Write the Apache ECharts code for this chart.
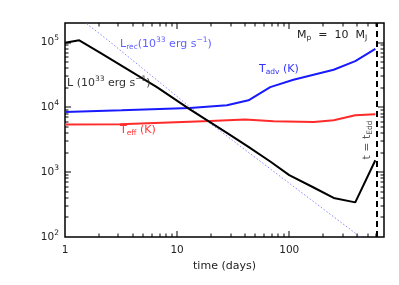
<!DOCTYPE html>
<html><head><meta charset="utf-8">
<script src="https://cdn.jsdelivr.net/npm/echarts@6/dist/echarts.min.js"></script>
<style>html,body{margin:0;padding:0;background:#fff}#c{width:399px;height:285px}</style>
</head><body><div id="c"></div>
<script>
// ---- data ----
const timeL    = [1, 1.34, 2.05, 6.6, 13, 27.8, 43.3, 67.7, 100, 165, 249, 388, 586];
const lumL     = [99000, 108000, 70000, 20500, 9300, 4040, 2450, 1460, 900, 580, 400, 342, 1530];
const timeAdv  = [1, 3.2, 13, 27.8, 43.3, 67.7, 109, 249, 388, 586];
const tempAdv  = [8470, 8990, 9750, 10740, 12820, 20520, 26690, 38020, 51550, 80000];
const timeEff  = [1, 3.1, 19.7, 40.5, 72.4, 165, 249, 388, 586];
const tempEff  = [5420, 5475, 6155, 6470, 6090, 5940, 6310, 7530, 7800];
const timeRec  = [1.56, 2.44, 19.0, 125, 430];
const lumRec   = [195000, 107000, 5940, 505, 100];
const tEdd = 600;
const xMin = 1, xMax = 700, yMin = 100, yMax = 200000;
const xMajorTicks = [1, 10, 100];
const yMajorTicks = [100, 1000, 10000, 100000];

const FONT = 'DejaVu Sans';
const TXT = '#222';
function pairs(ts, vs){ return ts.map((t,i)=>[t, vs[i]]); }
function isPow10(v){ const l=Math.log10(v); return Math.abs(l-Math.round(l))<1e-6; }

const minorX=[], minorY=[];
for (const d of xMajorTicks) for (let m=2;m<=9;m++){ const v=m*d; if (v<xMax) minorX.push(v); }
for (const d of yMajorTicks) for (let m=2;m<=9;m++){ const v=m*d; if (v<yMax) minorY.push(v); }
const xTickData = xMajorTicks.filter(v=>v>xMin).map(v=>[v,yMin,6]).concat(minorX.map(v=>[v,yMin,3.5]));
const yTickData = yMajorTicks.filter(v=>v>yMin).map(v=>[xMin,v,6]).concat(minorY.map(v=>[xMin,v,3.5]));

function xTickRender(params, api){
  const cs = params.coordSys; const p = api.coord([api.value(0), api.value(1)]);
  const len = api.value(2); const x = Math.round(p[0]);
  const st = {stroke:'#000', lineWidth:1};
  return {type:'group', children:[
    {type:'line', shape:{x1:x,y1:cs.y+cs.height,x2:x,y2:cs.y+cs.height-len}, style:st},
    {type:'line', shape:{x1:x,y1:cs.y,x2:x,y2:cs.y+len}, style:st}]};
}
function yTickRender(params, api){
  const cs = params.coordSys; const p = api.coord([api.value(0), api.value(1)]);
  const len = api.value(2); const y = Math.round(p[1]);
  const st = {stroke:'#000', lineWidth:1};
  return {type:'group', children:[
    {type:'line', shape:{x1:cs.x,y1:y,x2:cs.x+len,y2:y}, style:st},
    {type:'line', shape:{x1:cs.x+cs.width,y1:y,x2:cs.x+cs.width-len,y2:y}, style:st}]};
}

function richFor(color){
  return {
    m:{fontFamily:FONT,fontSize:11,fill:color},
    sup:{fontFamily:FONT,fontSize:7.5,fill:color,padding:[0,0,8,0]},
    sub:{fontFamily:FONT,fontSize:7.5,fill:color,padding:[7,0,0,0]}
  };
}
function label(x,y,text,color,extra){
  return Object.assign({type:'text', x:x, y:y, silent:true, z:100,
    style:{text:text, rich:richFor(color), fill:color, font:'11px '+FONT, verticalAlign:'middle', align:'left'}}, extra||{});
}

const chart = echarts.init(document.getElementById('c'), null, {renderer:'canvas'});
chart.setOption({
  animation:false,
  backgroundColor:'#fff',
  grid:{left:65, right:15, top:23, bottom:48, show:true, borderColor:'#000', borderWidth:1.5, backgroundColor:'transparent'},
  xAxis:{type:'log', logBase:10, min:xMin, max:xMax,
    name:'time (days)', nameLocation:'middle', nameGap:22,
    nameTextStyle:{fontFamily:FONT, fontSize:11, color:TXT},
    axisLine:{show:false}, axisTick:{show:false}, splitLine:{show:false}, minorTick:{show:false},
    axisLabel:{margin:8, fontFamily:FONT, fontSize:10.5, color:TXT,
      formatter:v=> isPow10(v) ? String(Math.round(v)) : ''}},
  yAxis:{type:'log', logBase:10, min:yMin, max:yMax,
    axisLine:{show:false}, axisTick:{show:false}, splitLine:{show:false}, minorTick:{show:false},
    axisLabel:{margin:6, fontFamily:FONT, fontSize:10.5, color:TXT,
      formatter:v=> isPow10(v) ? '10{sup|'+Math.round(Math.log10(v))+'}' : '',
      rich:{sup:{fontFamily:FONT,fontSize:7.5,color:TXT,padding:[0,0,8,0]}}}},
  graphic:[
    label(120,44,'{m|L}{sub|rec}{m|(10}{sup|33}{m| erg s}{sup|−1}{m|)}','#6060ff'),
    label(67,83,'{m|L (10}{sup|33}{m| erg s}{sup|−1}{m|)}','#333'),
    label(259,69,'{m|T}{sub|adv}{m| (K)}','#3333ff'),
    label(120,130,'{m|T}{sub|eff}{m| (K)}','#ff3333'),
    label(297,35,'{m|M}{sub|p}{m|  =  10  M}{sub|J}','#222'),
    {type:'text', x:367, y:140, rotation:Math.PI/2, silent:true, z:100,
     style:{text:'{m|t = t}{sub|Edd}', rich:richFor('#555'), fill:'#555', font:'11px '+FONT, align:'center', verticalAlign:'middle'}}
  ],
  series:[
    {type:'line', name:'Lrec', data:pairs(timeRec,lumRec), showSymbol:false, clip:true,
     lineStyle:{color:'#8888ff', width:1, type:[1.5,2]}, z:2},
    {type:'line', name:'Teff', data:pairs(timeEff,tempEff), showSymbol:false,
     lineStyle:{color:'#ff2a2a', width:2}, z:3},
    {type:'line', name:'Tadv', data:pairs(timeAdv,tempAdv), showSymbol:false,
     lineStyle:{color:'#1a1aff', width:2}, z:3},
    {type:'line', name:'L', data:pairs(timeL,lumL), showSymbol:false,
     lineStyle:{color:'#000', width:2}, z:4,
     markLine:{silent:true, symbol:['none','none'], label:{show:false}, animation:false,
       lineStyle:{color:'#000', type:[6,4], width:2}, data:[{xAxis:tEdd}]}},
    {type:'custom', name:'xticks', data:xTickData, encode:{x:0,y:1}, renderItem:xTickRender, silent:true, z:5},
    {type:'custom', name:'yticks', data:yTickData, encode:{x:0,y:1}, renderItem:yTickRender, silent:true, z:5}
  ]
});
</script>
</body></html>
